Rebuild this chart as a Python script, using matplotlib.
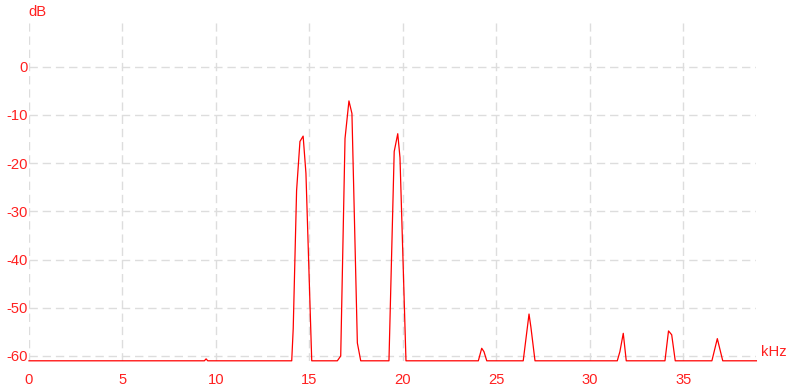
import matplotlib.pyplot as plt

plt.rcParams['font.family'] = ['Liberation Sans', 'DejaVu Sans']
plt.rcParams['axes.unicode_minus'] = False

# spectrum points (kHz, dB)
freq_khz = [0, 9.38, 9.47, 9.56,
            14.05, 14.13, 14.31, 14.49, 14.66, 14.81, 15.12,
            16.49, 16.67, 16.90, 17.11, 17.27, 17.56, 17.74,
            19.25, 19.53, 19.72, 19.84, 20.16,
            24.03, 24.21, 24.33, 24.48,
            26.43, 26.74, 26.84, 27.06,
            31.46, 31.60, 31.78, 31.94,
            34.01, 34.20, 34.37, 34.56,
            36.52, 36.81, 37.10, 38.9]
level_db = [-61, -61, -60.6, -61,
            -61, -54.3, -25.7, -15.5, -14.4, -22.1, -61,
            -61, -60.0, -14.9, -7.1, -9.7, -57.3, -61,
            -61, -17.6, -13.9, -18.9, -61,
            -61, -58.4, -59.1, -61,
            -61, -51.3, -54.0, -61,
            -61, -59.1, -55.3, -61,
            -61, -54.8, -55.6, -61,
            -61, -56.4, -61, -61]

x_ticks = [0, 5, 10, 15, 20, 25, 30, 35]
y_ticks = [0, -10, -20, -30, -40, -50, -60]

red = '#ff2020'

fig = plt.figure(figsize=(7.86, 3.86), dpi=100)
ax = fig.add_axes([29 / 786, 1 - 360.8 / 386, 727.4 / 786, 337.5 / 386])

ax.plot(freq_khz, level_db, color='#ff0000', lw=0.9, clip_on=False, zorder=3)

ax.set_xlim(0, 38.9)
ax.set_ylim(-61, 9)
ax.set_xticks(x_ticks)
ax.set_yticks(y_ticks)
ax.tick_params(length=0, labelsize=10.6, colors=red)
ax.tick_params(axis='x', pad=9)
ax.tick_params(axis='y', pad=1)
for s in ax.spines.values():
    s.set_visible(False)
ax.grid(True, color='#dddddd', lw=1, linestyle=(0, (6, 3.5)))
ax.set_axisbelow(True)

fig.text(28 / 786, 1 - 12 / 386, 'dB', color=red, fontsize=10.6, ha='left', va='center')
fig.text(761 / 786, 1 - 352 / 386, 'kHz', color=red, fontsize=10.6, ha='left', va='center')

fig.savefig('out.png', dpi=100)
